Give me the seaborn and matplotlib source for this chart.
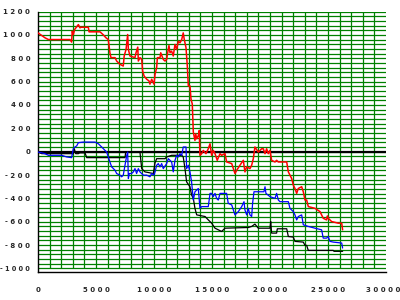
import matplotlib
matplotlib.use("Agg")
import matplotlib.pyplot as plt
import matplotlib.transforms as mtransforms
import numpy as np
import pandas as pd
import seaborn as sns

# ---- data ----
red_x = [0, 600, 900, 2760, 2900, 2950, 3050, 3150, 3480, 3620, 3700, 4340, 4400, 5345, 5600, 5860, 6060, 6200, 6290, 6640,
         6780, 7070, 7350, 7430, 7590, 7730, 7790, 7930, 8360, 8450, 8600, 8650, 8790, 8940, 9020, 9140, 9370, 9570, 9650,
         9800, 10000, 10090, 10230, 10290, 10520, 10580, 10800, 10950, 11090, 11180, 11290, 11380, 11520, 11660, 11810,
         11950, 12100, 12240, 12390, 12520, 12610, 12760, 12870, 12960, 13100, 13190, 13300, 13390, 13530, 13600, 13680,
         13820, 13900, 13960, 14110, 14250, 14480, 14680, 14830, 14970, 15110, 15260, 15450, 15690, 15830, 16120, 16260,
         16700, 16980, 17130, 17410, 17700, 17840, 17990, 18270, 18420, 18560, 18700, 18990, 19280, 19420, 19570, 19710,
         19850, 20000, 20140, 20430, 20570, 20720, 21440, 21580, 21870, 22010, 22150, 22300, 22440, 22730, 22870, 23020,
         23160, 23300, 23880, 24310, 24590, 24880, 24950, 25020, 25310, 25880, 26180, 26260]
red_y = [1017, 975, 960, 960, 938, 1031, 1003, 1045, 1088, 1060, 1065, 1065, 1026, 1026, 1003, 975, 960, 847, 805, 805,
         776, 748, 733, 819, 875, 1003, 875, 819, 805, 847, 895, 776, 805, 790, 691, 649, 620, 606, 578,
         620, 578, 663, 720, 805, 805, 847, 790, 776, 790, 847, 909, 847, 861, 819, 918,
         875, 946, 932, 960, 1017, 960, 890, 733, 563, 563, 450, 408, 167, 96, 153, 110,
         139, 181, -31, -17, 11, -17, 25, 68, -31, 11, -17, -74, -17, -31, -17, -88,
         -102, -187, -159, -116, -74, -173, -130, -145, -116, -60, 40, -3, 25, 25, -17, 25,
         -17, 11, -74, -88, -74, -88, -88, -173, -230, -286, -315, -357, -315, -300, -343, -414,
         -414, -470, -485, -513, -570, -584, -550, -570, -598, -612, -612, -669]

blue_x = [0, 600, 890, 2040, 2470, 2900, 3040, 3190, 3340, 3480, 3900, 4910, 5200, 5490, 5775, 5920, 6060, 6200, 6350,
          6640, 6780, 7070, 7210, 7350, 7500, 7650, 7730, 7790, 7870, 8070, 8220, 8360, 8500, 8650, 8790, 9080, 9370,
          9650, 9800, 10000, 10090, 10230, 10370, 10520, 10660, 10800, 11090, 11230, 11380, 11520, 11660, 11810, 11950,
          12100, 12240, 12390, 12520, 12760, 12810, 12960, 13100, 13240, 13390, 13530, 13680, 13820, 13960, 14110, 14680,
          14830, 14970, 15110, 15260, 15400, 15540, 15690, 16260, 16400, 16700, 16840, 16980, 17270, 17560, 17760, 17840,
          17990, 18130, 18270, 18420, 18500, 18620, 19480, 19570, 19650, 20000, 20430, 20570, 20720, 20860, 21580, 21720,
          22010, 22150, 22300, 22440, 22730, 22870, 23300, 23880, 24450, 24590, 24880, 25020, 25170, 25450, 26180, 26260]
blue_y = [-3, -17, -31, -31, -45, -51, 25, 40, 50, 77, 82, 82, 68, 40, 11, -3, -45, -88, -130,
          -159, -187, -201, -215, -201, -116, -31, -3, -230, -187, -187, -173, -145, -187, -145, -173, -201, -201,
          -215, -187, -201, -173, -116, -102, -130, -102, -145, -102, -60, -74, -88, -173, -74, -31,
          -45, -17, -31, 40, 40, -145, -116, -173, -258, -414, -343, -329, -315, -485, -470, -470,
          -357, -357, -385, -357, -400, -414, -357, -357, -442, -456, -499, -541, -513, -470, -428, -499,
          -541, -485, -541, -555, -442, -343, -343, -300, -357, -385, -400, -357, -414, -428, -428, -485,
          -513, -541, -584, -555, -541, -626, -640, -655, -669, -740, -740, -726, -768, -774, -782, -825]

black_x = [0, 320, 3040, 3130, 3250, 3480, 3600, 4050, 4200, 7500, 7560, 8790, 8940, 9220, 9940, 10090, 10230, 10950,
           11090, 11520, 12390, 12520, 12670, 12810, 13100, 13240, 13390, 13530, 13680, 14400, 14680, 14970, 15260,
           15830, 16120, 18130, 18420, 18700, 18990, 20000, 20060, 20140, 20570, 20630, 21440, 21580, 22010, 22150,
           22870, 23020, 23160, 23300, 25450, 25520, 26260]
black_y = [-3, -17, -17, 25, -17, -17, -10, -10, -51, -51, -3, -3, -145, -173, -187, -95, -60, -60,
           -45, -31, -31, -45, -145, -258, -300, -371, -400, -485, -541, -555, -584, -612, -655,
           -683, -655, -649, -640, -620, -655, -655, -598, -697, -697, -660, -660, -726, -731, -768,
           -774, -802, -802, -845, -845, -853, -853]

y_major = list(range(-1000, 1201, 200))
y_labels = [" ".join(str(v)) for v in y_major]
x_major = [0, 5000, 10000, 15000, 20000, 25000, 30000]
x_labels = [" ".join(str(v)) for v in x_major]

# ---- figure ----
sns.set_style("white")
plt.rcParams["font.family"] = ["DejaVu Sans"]

fig = plt.figure(figsize=(4, 3), dpi=100)
ax = fig.add_axes([38 / 400, 28 / 300, 348 / 400, 260.5 / 300])
ax.set_xlim(0, 30000)
ax.set_ylim(-1030, 1200)

green = "#008000"
ax.hlines(np.arange(-1000, 1201, 40), 0, 30000, color=green, lw=0.9, zorder=1)
ax.vlines(np.arange(1000, 30000, 1000), -1000, 1200, color=green, lw=0.9, zorder=1)
ax.axhline(0, color="black", lw=1.6, zorder=2)

df_red = pd.DataFrame({"x": red_x, "y": red_y})
df_blue = pd.DataFrame({"x": blue_x, "y": blue_y})
df_black = pd.DataFrame({"x": black_x, "y": black_y})

sns.lineplot(data=df_black, x="x", y="y", sort=False, estimator=None, color="black", lw=0.9, ax=ax, zorder=3)
sns.lineplot(data=df_blue, x="x", y="y", sort=False, estimator=None, color="#0000ff", lw=0.9, ax=ax, zorder=4)
sns.lineplot(data=df_red, x="x", y="y", sort=False, estimator=None, color="#ff0000", lw=1.1, ax=ax, zorder=5)

ax.set_xlabel("")
ax.set_ylabel("")
for s in ["top", "right"]:
    ax.spines[s].set_visible(False)
for s in ["left", "bottom"]:
    ax.spines[s].set_color("black")
    ax.spines[s].set_linewidth(1.0)
ax.spines["left"].set_bounds(-1030, 1200)

ax.set_yticks(y_major)
ax.set_yticklabels(y_labels)
ax.set_yticks(np.arange(-1000, 1201, 40), minor=True)
ax.set_xticks(x_major)
ax.set_xticklabels(x_labels)
ax.set_xticks(np.arange(0, 30001, 1000), minor=True)

ax.tick_params(axis="y", which="major", direction="out", length=4, width=1, color="black",
               labelsize=5, pad=1.5)
ax.tick_params(axis="y", which="minor", direction="out", length=2, width=1, color="black")
ax.tick_params(axis="x", which="major", direction="inout", length=7, width=1, color="black",
               labelsize=5, pad=7)
ax.tick_params(axis="x", which="minor", direction="inout", length=5, width=1, color="black")
for lab in ax.get_xticklabels() + ax.get_yticklabels():
    lab.set_fontweight("bold")

# keep the widest edge labels inside the canvas
last = ax.get_xticklabels()[-1]
last.set_transform(last.get_transform() + mtransforms.ScaledTranslation(-3 / 100, 0, fig.dpi_scale_trans))
first_y = ax.get_yticklabels()[0]
first_y.set_fontsize(4.7)

fig.savefig("out.png", dpi=100)
